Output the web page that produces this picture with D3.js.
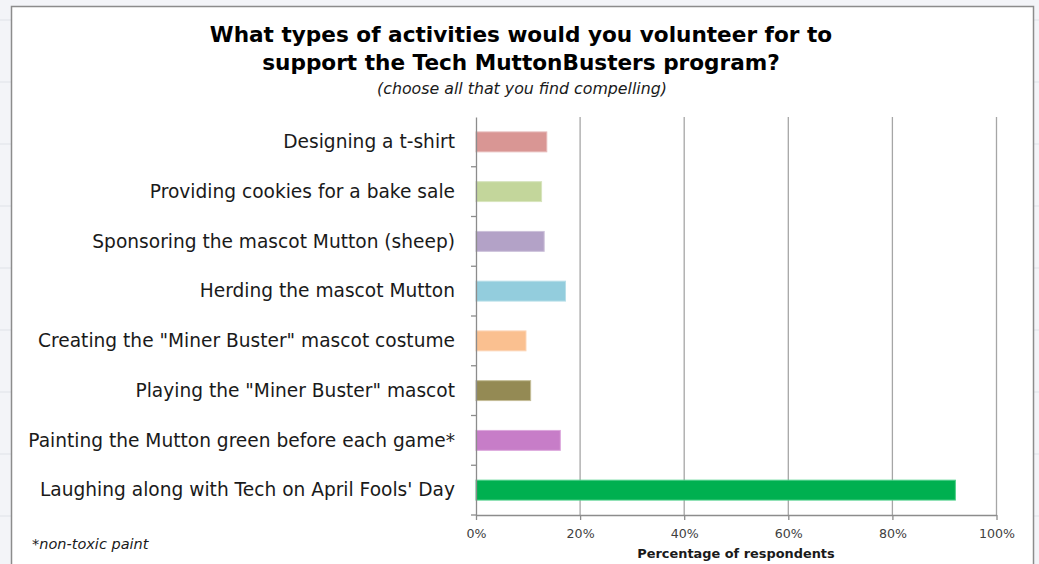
<!DOCTYPE html>
<html><head><meta charset="utf-8">
<script src="https://cdn.jsdelivr.net/npm/d3@7"></script>
<style>html,body{margin:0;padding:0;background:#f3f4f8;}svg{display:block;}</style>
</head><body>
<svg id="c" width="1039" height="564"></svg>
<script>
const categories = [
  "Designing a t-shirt",
  "Providing cookies for a bake sale",
  "Sponsoring the mascot Mutton (sheep)",
  "Herding the mascot Mutton",
  "Creating the \"Miner Buster\" mascot costume",
  "Playing the \"Miner Buster\" mascot",
  "Painting the Mutton green before each game*",
  "Laughing along with Tech on April Fools' Day"
];
const values = [13.6, 12.6, 13.1, 17.2, 9.6, 10.5, 16.2, 92.1];
const colors = ["#d99694","#c3d69b","#b3a2c7","#93cddd","#fac090","#948a54","#c77dc8","#00b050"];
const borders = ["#e6b9b8","#d7e4bd","#ccc1da","#b7dee8","#fcd5b5","#c4bd97","#dca6dc","#4fd08a"];
const tickValues = [0,20,40,60,80,100];
const titleLines = ["What types of activities would you volunteer for to","support the Tech MuttonBusters program?"];
const subtitle = "(choose all that you find compelling)";
const xTitle = "Percentage of respondents";
const footnote = "*non-toxic paint";

(function(){
const svg = d3.select("#c");
const font = "'DejaVu Sans', sans-serif";

const bg = svg.append("g");
for (let yy = 20; yy < 564; yy += 62) bg.append("line").attr("x1",0).attr("x2",1039).attr("y1",yy).attr("y2",yy).attr("stroke","#dfe2e8").attr("stroke-width",1);

svg.append("rect").attr("x",11.5).attr("y",6.5).attr("width",1022).attr("height",570)
  .attr("fill","#fff").attr("stroke","#8c8c8c").attr("stroke-width",1.5);

const pLeft = 476, pRight = 996.5, pTop = 117, pBottom = 515;
const x = d3.scaleLinear().domain([0,100]).range([pLeft,pRight]);
const y = d3.scaleBand().domain(categories).range([pTop,pBottom]).paddingInner(0.6).paddingOuter(0.3);

svg.append("g").selectAll("line").data(tickValues.slice(1)).join("line")
  .attr("x1",d=>x(d)).attr("x2",d=>x(d)).attr("y1",pTop).attr("y2",pBottom)
  .attr("stroke","#a6a6a6").attr("stroke-width",1.3);

svg.append("g").selectAll("rect").data(values).join("rect")
  .attr("x",x(0)).attr("y",(d,i)=>y(categories[i]))
  .attr("width",d=>x(d)-x(0)).attr("height",y.bandwidth())
  .attr("fill",(d,i)=>colors[i]).attr("stroke",(d,i)=>borders[i]).attr("stroke-width",1);

const xa = svg.append("g").attr("transform",`translate(0,${pBottom})`)
  .call(d3.axisBottom(x).tickValues(tickValues).tickFormat(d=>d+"%").tickSize(5).tickSizeOuter(0));
xa.select(".domain").attr("stroke","#8c8c8c").attr("stroke-width",1.3);
xa.selectAll(".tick line").attr("stroke","#8c8c8c").attr("stroke-width",1.3);
xa.selectAll("text").attr("font-family",font).attr("font-size",12.6).attr("fill","#404040").attr("dy","1.2em");

const yl = d3.scaleBand().domain(categories).range([pTop,pBottom]);
const ya = svg.append("g").attr("transform",`translate(${pLeft},0)`)
  .call(d3.axisLeft(y).tickSize(0).tickPadding(21));
ya.select(".domain").attr("stroke","#8c8c8c").attr("stroke-width",1.3);
ya.selectAll("text").attr("font-family",font).attr("font-size",18.6).attr("fill","#1a1a1a").attr("dy","0.33em");
svg.append("g").selectAll("line").data(categories).join("line")
  .attr("x1",pLeft-5).attr("x2",pLeft).attr("y1",d=>yl(d)+yl.bandwidth()).attr("y2",d=>yl(d)+yl.bandwidth())
  .attr("stroke","#8c8c8c").attr("stroke-width",1.3);

svg.append("g").selectAll("text").data(titleLines).join("text")
  .attr("x",521).attr("y",(d,i)=>41.5+i*28.5).attr("text-anchor","middle")
  .attr("font-family",font).attr("font-weight","bold").attr("font-size",21.6).attr("fill","#000")
  .text(d=>d);
svg.append("text").attr("x",522).attr("y",94).attr("text-anchor","middle")
  .attr("font-family",font).attr("font-style","italic").attr("font-size",15.8).attr("fill","#1a1a1a").text(subtitle);
svg.append("text").attr("x",736).attr("y",558).attr("text-anchor","middle")
  .attr("font-family",font).attr("font-weight","bold").attr("font-size",12.9).attr("fill","#1a1a1a").text(xTitle);
svg.append("text").attr("x",32).attr("y",549)
  .attr("font-family",font).attr("font-style","italic").attr("font-size",14.5).attr("fill","#1a1a1a").text(footnote);
})();
</script>
</body></html>
